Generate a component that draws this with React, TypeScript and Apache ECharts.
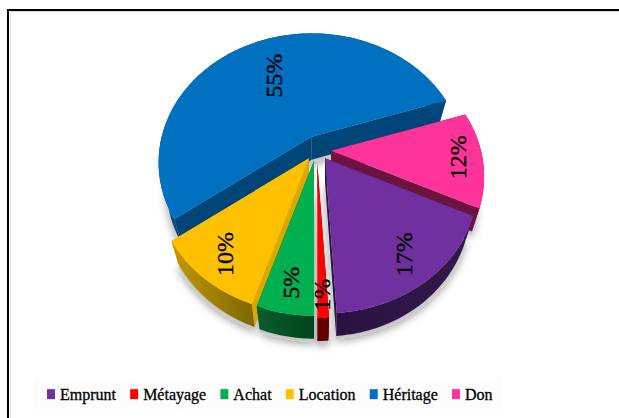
import React, { useEffect, useRef } from "react";
import * as echarts from "echarts";

const categories = ["Emprunt", "Métayage", "Achat", "Location", "Héritage", "Don"];
const values = [17, 1, 5, 10, 55, 12];
const topColors = ["#7030a0", "#ff0000", "#00b050", "#ffc000", "#0070c0", "#ff3399"];
const rimColors: [string, string][] = [
  ["#2a1240", "#321a4c"],
  ["#600000", "#600000"],
  ["#0a5c2c", "#00451d"],
  ["#c49a00", "#7f6500"],
  ["#00497f", "#00497f"],
  ["#6b1440", "#6b1440"],
];
const cutColors = ["#2d1442", "#600000", "#00602c", "#dba800", "#004577", "#6b1440"];
// Explosion: where each slice's apex sits on the page
const apexX = [325, 317.3, 314, 309, 311.7, 331];
const apexY = [158.3, 163, 160.7, 158.3, 136.7, 150.7];
const labelReach = [0.78, 0.85, 0.8, 0.8, 0.65, 0.84];
const paintOrder = [4, 5, 3, 2, 0, 1];

const FIRST_ANGLE = 115.2;
const RX = 150;
const RY = 124;
const PERSPECTIVE = 0.2;
const DEPTH = 23;
const BASE_SHRINK = 0.95;
const TOTAL = values.reduce((a, b) => a + b, 0);

function sliceAngles(i: number) {
  let a = FIRST_ANGLE;
  for (let k = 0; k < i; k++) a += (values[k] / TOTAL) * 360;
  return [a, a + (values[i] / TOTAL) * 360];
}

function rimPoint(i: number, deg: number, reach = 1): [number, number] {
  const r = (deg * Math.PI) / 180;
  const u = Math.sin(r);
  const v = Math.cos(r);
  const k = 1 / (1 + v * PERSPECTIVE);
  return [apexX[i] + u * RX * k * reach, apexY[i] - v * RY * k * reach];
}

function renderSlice(i: number) {
  const [a0, a1] = sliceAngles(i);
  const steps = Math.max(6, Math.ceil(a1 - a0));
  const rim: [number, number][] = [];
  for (let s = 0; s <= steps; s++) rim.push(rimPoint(i, a0 + ((a1 - a0) * s) / steps));
  const apex: [number, number] = [apexX[i], apexY[i]];
  const down = (p: [number, number]): [number, number] => [
    apexX[i] + (p[0] - apexX[i]) * BASE_SHRINK,
    p[1] + DEPTH,
  ];
  const order = paintOrder.indexOf(i);
  const top = [apex, ...rim];
  const rimWall = [...rim, ...rim.slice().reverse().map(down)];
  const quad = (p: [number, number]) => [apex, p, down(p), down(apex)];
  const wallFill = new echarts.graphic.LinearGradient(0, 0, 1, 0, [
    { offset: 0, color: rimColors[i][0] },
    { offset: 1, color: rimColors[i][1] },
  ]);
  return {
    type: "group",
    children: [
      {
        type: "polygon",
        z2: 0,
        shape: { points: [...rim, apex].map((p) => { const d = down(p); return [d[0], d[1] + 3]; }) },
        style: { fill: "#c8c8c8", shadowBlur: 9, shadowColor: "rgba(0,0,0,0.4)", shadowOffsetY: 2 },
      },
      { type: "polygon", z2: 10 + order, shape: { points: quad(rim[0]) }, style: { fill: cutColors[i] } },
      { type: "polygon", z2: 10 + order, shape: { points: quad(rim[rim.length - 1]) }, style: { fill: cutColors[i] } },
      { type: "polygon", z2: 11 + order, shape: { points: rimWall }, style: { fill: wallFill } },
      { type: "polygon", z2: 12 + order, shape: { points: top }, style: { fill: topColors[i] } },
    ],
  };
}

function percentLabel(i: number) {
  const [a0, a1] = sliceAngles(i);
  const mid = rimPoint(i, (a0 + a1) / 2, labelReach[i]);
  return {
    type: "text",
    z: 100,
    x: mid[0],
    y: mid[1],
    rotation: Math.PI / 2,
    style: {
      text: `${values[i]}%`,
      fontFamily: "Liberation Serif",
      fontSize: 24,
      fill: "#000",
      stroke: "#000",
      lineWidth: 0.35,
      align: "center",
      verticalAlign: "middle",
    },
  };
}

export default function App() {
  const ref = useRef<HTMLDivElement>(null);
  useEffect(() => {
    document.body.style.margin = "0";
    const chart = echarts.init(ref.current!, undefined, { renderer: "svg" });
    chart.setOption({
      animation: false,
      backgroundColor: "#ffffff",
      textStyle: { fontFamily: "Liberation Serif" },
      graphic: [
        { type: "rect", z: -10, shape: { x: 33, y: 377, width: 469, height: 33 }, style: { fill: "#fcfcfc" } },
        { type: "line", shape: { x1: 10.5, y1: 12, x2: 10.5, y2: 418 }, style: { stroke: "#e6e6e6", lineWidth: 1 } },
        { type: "line", shape: { x1: 10, y1: 11.5, x2: 619, y2: 11.5 }, style: { stroke: "#dcdcdc", lineWidth: 1 } },
        { type: "line", shape: { x1: 8, y1: 10, x2: 8, y2: 418 }, style: { stroke: "#000", lineWidth: 2 } },
        { type: "line", shape: { x1: 7, y1: 10, x2: 619, y2: 10 }, style: { stroke: "#000", lineWidth: 2 } },
        ...categories.map((_, i) => percentLabel(i)),
      ],
      legend: {
        data: categories,
        left: 47,
        top: 386,
        padding: 0,
        icon: "rect",
        itemWidth: 8,
        itemHeight: 10,
        itemGap: 14,
        textStyle: {
          fontFamily: "Liberation Serif",
          fontSize: 16,
          color: "#000",
          textBorderColor: "#000",
          textBorderWidth: 0.3,
        },
        selectedMode: false,
      },
      series: categories.map((name, i) => ({
        type: "custom",
        name,
        coordinateSystem: "none",
        silent: true,
        itemStyle: { color: topColors[i] },
        data: [[values[i]]],
        renderItem: () => renderSlice(i),
      })),
    });
    return () => chart.dispose();
  }, []);
  return <div ref={ref} style={{ width: 619, height: 418 }} />;
}
